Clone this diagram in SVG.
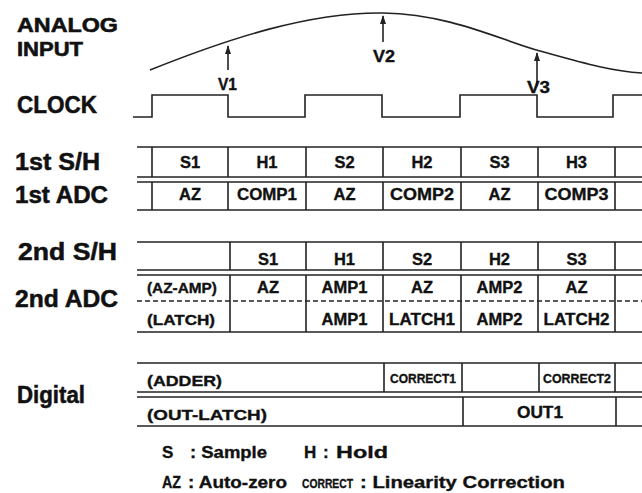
<svg xmlns="http://www.w3.org/2000/svg" width="642" height="493" viewBox="0 0 642 493">
<style>
text{font-family:"Liberation Sans",Arial,sans-serif;font-weight:bold;fill:#111;stroke:#111;stroke-width:0.35}
.lbl{font-size:23px;stroke-width:0.5}
.top{font-size:21px;stroke-width:0.6}
.c{font-size:16.5px;text-anchor:middle}
.s{font-size:15px}
.v{font-size:16px}
.lg{font-size:17px}
.ln{stroke:#222;stroke-width:1.6;fill:none}
.dash{stroke:#222;stroke-width:1.4;stroke-dasharray:5 3;fill:none}
</style>
<defs>
<marker id="ah" markerWidth="9" markerHeight="6" refX="8" refY="3" orient="auto" markerUnits="userSpaceOnUse">
<path d="M0,0 L9,3 L0,6 Z" fill="#222"/>
</marker>
</defs>
<rect width="642" height="493" fill="#fff"/>

<g id="labels">
<text class="top" x="17" y="32" textLength="101" lengthAdjust="spacingAndGlyphs">ANALOG</text>
<text class="top" x="17" y="56" textLength="66" lengthAdjust="spacingAndGlyphs">INPUT</text>
<text class="lbl" x="17" y="113" textLength="80" lengthAdjust="spacingAndGlyphs">CLOCK</text>
<text class="lbl" x="15" y="170" textLength="85" lengthAdjust="spacingAndGlyphs">1st S/H</text>
<text class="lbl" x="15" y="203" textLength="93" lengthAdjust="spacingAndGlyphs">1st ADC</text>
<text class="lbl" x="18" y="260" textLength="99" lengthAdjust="spacingAndGlyphs">2nd S/H</text>
<text class="lbl" x="15" y="307" textLength="103" lengthAdjust="spacingAndGlyphs">2nd ADC</text>
<text class="lbl" x="17" y="403" textLength="68" lengthAdjust="spacingAndGlyphs">Digital</text>
</g>

<g id="analog">
<path class="ln" stroke-width="1.8" d="M150,70 C230,38 310,12 383,13 C450,14 500,40 540,51 C580,62 610,71 642,73"/>
<line class="ln" x1="228" y1="70" x2="228" y2="46" marker-end="url(#ah)" stroke-width="1.3"/>
<line class="ln" x1="383" y1="42" x2="383" y2="16" marker-end="url(#ah)" stroke-width="1.3"/>
<line class="ln" x1="537" y1="86" x2="537" y2="53" marker-end="url(#ah)" stroke-width="1.3"/>
<text class="v" x="218" y="90" textLength="19" lengthAdjust="spacingAndGlyphs">V1</text>
<text class="v" x="373" y="62" textLength="22" lengthAdjust="spacingAndGlyphs">V2</text>
<text class="v" x="527" y="93" textLength="23" lengthAdjust="spacingAndGlyphs">V3</text>
</g>

<g id="clock">
<path class="ln" stroke-width="1.8" d="M133,117 H152 V95 H228 V117 H305 V95 H382 V117 H460 V95 H537 V117 H613 V95 H642"/>
</g>

<g id="first-stage">
<line class="ln" x1="137" y1="147" x2="642" y2="147"/>
<line class="ln" x1="137" y1="177" x2="642" y2="177"/>
<line class="ln" x1="137" y1="182" x2="642" y2="182"/>
<line class="ln" x1="137" y1="210" x2="642" y2="210"/>
<path class="ln" d="M152,147V177M228,147V177M306,147V177M383,147V177M461,147V177M538,147V177M615,147V177"/>
<path class="ln" d="M152,182V210M228,182V210M306,182V210M383,182V210M461,182V210M538,182V210M615,182V210"/>
<text class="c" x="190" y="168">S1</text>
<text class="c" x="267" y="168">H1</text>
<text class="c" x="344.5" y="168">S2</text>
<text class="c" x="422" y="168">H2</text>
<text class="c" x="499.5" y="168">S3</text>
<text class="c" x="576.5" y="168">H3</text>
<text class="c" x="190" y="200">AZ</text>
<text class="c" x="267" y="200" textLength="60" lengthAdjust="spacingAndGlyphs">COMP1</text>
<text class="c" x="344.5" y="200">AZ</text>
<text class="c" x="422" y="200" textLength="64" lengthAdjust="spacingAndGlyphs">COMP2</text>
<text class="c" x="499.5" y="200">AZ</text>
<text class="c" x="576.5" y="200" textLength="64" lengthAdjust="spacingAndGlyphs">COMP3</text>
</g>

<g id="second-stage">
<line class="ln" x1="137" y1="242" x2="642" y2="242"/>
<line class="ln" x1="137" y1="270" x2="642" y2="270"/>
<line class="ln" x1="137" y1="275" x2="642" y2="275"/>
<line class="dash" x1="137" y1="301" x2="642" y2="301"/>
<line class="ln" x1="137" y1="332" x2="642" y2="332"/>
<path class="ln" d="M230,242V270M306,242V270M383,242V270M461,242V270M538,242V270M615,242V270"/>
<path class="ln" d="M230,275V332M306,275V332M383,275V332M461,275V332M538,275V332M615,275V332"/>
<text class="c" x="268" y="265">S1</text>
<text class="c" x="344.5" y="265">H1</text>
<text class="c" x="422" y="265">S2</text>
<text class="c" x="499.5" y="265">H2</text>
<text class="c" x="576.5" y="265">S3</text>
<text class="s" x="147" y="293" textLength="70" lengthAdjust="spacingAndGlyphs">(AZ-AMP)</text>
<text class="s" x="147" y="325" textLength="68" lengthAdjust="spacingAndGlyphs">(LATCH)</text>
<text class="c" x="268" y="293">AZ</text>
<text class="c" x="344.5" y="293">AMP1</text>
<text class="c" x="422" y="293">AZ</text>
<text class="c" x="499.5" y="293">AMP2</text>
<text class="c" x="576.5" y="293">AZ</text>
<text class="c" x="344.5" y="325">AMP1</text>
<text class="c" x="422" y="325" textLength="66" lengthAdjust="spacingAndGlyphs">LATCH1</text>
<text class="c" x="499.5" y="325">AMP2</text>
<text class="c" x="576.5" y="325" textLength="66" lengthAdjust="spacingAndGlyphs">LATCH2</text>
</g>

<g id="digital">
<line class="ln" x1="137" y1="363" x2="642" y2="363"/>
<line class="ln" x1="137" y1="392" x2="642" y2="392"/>
<line class="ln" x1="137" y1="397" x2="642" y2="397"/>
<line class="ln" x1="137" y1="426" x2="642" y2="426"/>
<path class="ln" d="M384,363V392M462,363V392M539,363V392M615,363V392"/>
<path class="ln" d="M463,397V426M616,397V426"/>
<text class="s" x="147" y="386" textLength="75" lengthAdjust="spacingAndGlyphs">(ADDER)</text>
<text class="s" x="147" y="420" textLength="120" lengthAdjust="spacingAndGlyphs">(OUT-LATCH)</text>
<text class="c" x="423" y="383" style="font-size:13.5px" textLength="66" lengthAdjust="spacingAndGlyphs">CORRECT1</text>
<text class="c" x="577" y="383" style="font-size:13.5px" textLength="68" lengthAdjust="spacingAndGlyphs">CORRECT2</text>
<text class="c" x="540" y="418" style="font-size:16px" textLength="46" lengthAdjust="spacingAndGlyphs">OUT1</text>
</g>

<g id="legend">
<text class="lg" x="162" y="458">S</text>
<text class="lg" x="190" y="458" textLength="77" lengthAdjust="spacingAndGlyphs">: Sample</text>
<text class="lg" x="304" y="458">H</text>
<text class="lg" x="323" y="458">:</text>
<text class="lg" x="336" y="458" textLength="52" lengthAdjust="spacingAndGlyphs">Hold</text>
<text class="lg" x="162" y="488" textLength="19" lengthAdjust="spacingAndGlyphs">AZ</text>
<text class="lg" x="188" y="488" textLength="99" lengthAdjust="spacingAndGlyphs">: Auto-zero</text>
<text class="lg" x="302" y="488" style="font-size:12px" textLength="51" lengthAdjust="spacingAndGlyphs">CORRECT</text>
<text class="lg" x="360" y="488" textLength="205" lengthAdjust="spacingAndGlyphs">: Linearity Correction</text>
</g>
</svg>
